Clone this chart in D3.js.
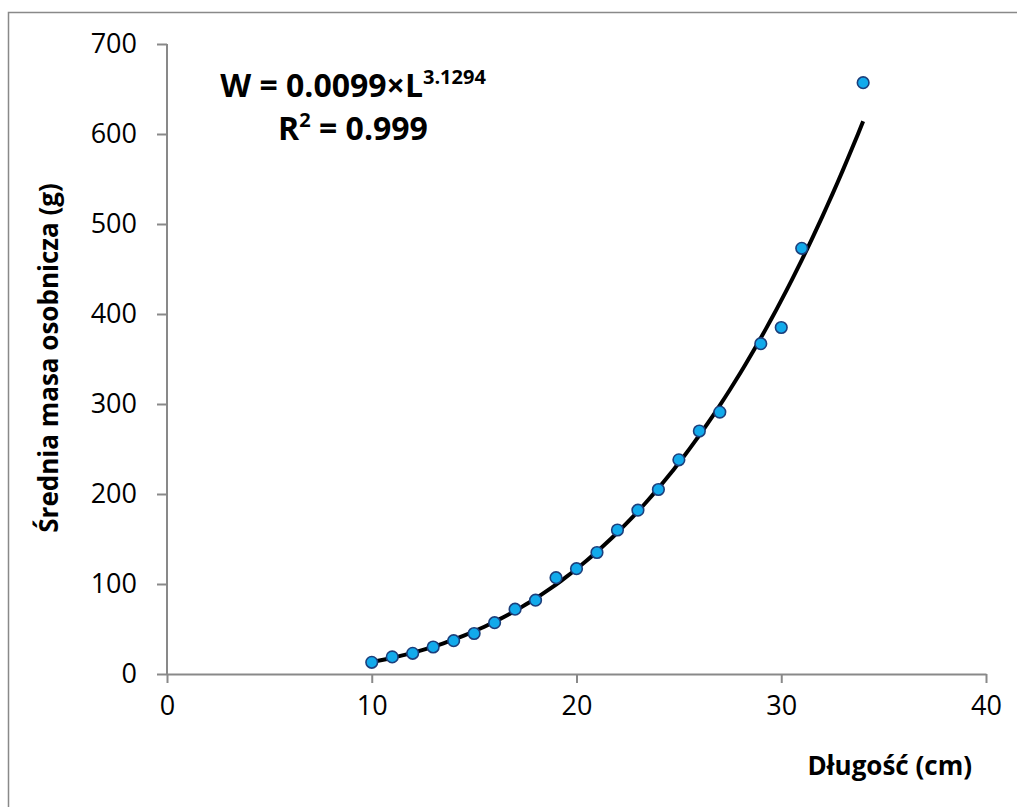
<!DOCTYPE html>
<html>
<head>
<meta charset="utf-8">
<script src="https://cdnjs.cloudflare.com/ajax/libs/d3/7.8.5/d3.min.js"></script>
<style>
  body { margin: 0; background: #fff; }
  svg { display: block; font-family: "Open Sans", "Noto Sans", sans-serif; }
</style>
</head>
<body>
<div id="chart"></div>
<script>
// Dane: długość (cm) i średnia masa (g)
const lengths = [10, 11, 12, 13, 14, 15, 16, 17, 18, 19, 20, 21, 22, 23, 24, 25, 26, 27, 29, 30, 31, 34];
const masses = [13, 19, 23, 30, 37, 45, 57, 72, 82, 107, 117, 135, 160, 182, 205, 238, 270, 291, 367, 385, 473, 657];
const xTicks = [0, 10, 20, 30, 40];
const yTicks = [0, 100, 200, 300, 400, 500, 600, 700];
// linia trendu potęgowego z wykresu
const fitA = 0.0099, fitB = 3.1294;
const fitRange = [10, 34];

const width = 1017, height = 807;
const plot = { left: 167, right: 986, top: 44, bottom: 674 };
const axisColor = "#898989";

const svg = d3.select("#chart").append("svg")
  .attr("width", width).attr("height", height);

svg.append("rect")
  .attr("x", 8.5).attr("y", 12.5)
  .attr("width", width).attr("height", height)
  .attr("fill", "white").attr("stroke", axisColor).attr("stroke-width", 1.5);

const x = d3.scaleLinear().domain([0, 40]).range([plot.left, plot.right]);
const y = d3.scaleLinear().domain([0, 700]).range([plot.bottom, plot.top]);

// Osie
const xAxis = svg.append("g")
  .attr("transform", `translate(0,${plot.bottom})`)
  .call(d3.axisBottom(x).tickValues(xTicks).tickSize(9).tickPadding(13).tickSizeOuter(0));
const yAxis = svg.append("g")
  .attr("transform", `translate(${plot.left},0)`)
  .call(d3.axisLeft(y).tickValues(yTicks).tickSize(10).tickPadding(20).tickSizeOuter(0));

[xAxis, yAxis].forEach((a) => {
  a.select(".domain").attr("stroke", axisColor).attr("stroke-width", 2);
  a.selectAll(".tick line").attr("stroke", axisColor).attr("stroke-width", 2);
  a.selectAll(".tick text")
    .attr("fill", "#000")
    .style("font-size", "27px")
    .style("font-family", "'Open Sans', sans-serif");
});
yAxis.select(".domain").attr("d", `M0,${plot.bottom + 1}V${plot.top}`);

// Linia trendu
const curve = d3.range(fitRange[0], fitRange[1] + 0.001, 0.25).map((l) => [l, fitA * Math.pow(l, fitB)]);
svg.append("path")
  .datum(curve)
  .attr("fill", "none")
  .attr("stroke", "#000")
  .attr("stroke-width", 4)
  .attr("d", d3.line().x((d) => x(d[0])).y((d) => y(d[1])));

// Punkty
svg.append("g").selectAll("circle")
  .data(lengths.map((l, i) => [l, masses[i]]))
  .join("circle")
  .attr("cx", (d) => x(d[0]))
  .attr("cy", (d) => y(d[1]))
  .attr("r", 5.8)
  .attr("fill", "#12aaeb")
  .attr("stroke", "#1c3f7c")
  .attr("stroke-width", 1.6);

// Równanie
const eq = svg.append("text")
  .attr("x", 353).attr("y", 97)
  .attr("text-anchor", "middle")
  .style("font-size", "32px").style("font-weight", "bold");
eq.append("tspan").text("W = 0.0099×L");
eq.append("tspan").attr("dy", -13).style("font-size", "20px").text("3.1294");

const r2 = svg.append("text")
  .attr("x", 353).attr("y", 140)
  .attr("text-anchor", "middle")
  .style("font-size", "32px").style("font-weight", "bold");
r2.append("tspan").text("R");
r2.append("tspan").attr("dy", -13).style("font-size", "20px").text("2");
r2.append("tspan").attr("dy", 13).text(" = 0.999");

// Tytuły osi
svg.append("text")
  .attr("x", 972).attr("y", 775)
  .attr("text-anchor", "end")
  .style("font-size", "26px").style("font-weight", "bold")
  .text("Długość (cm)");

svg.append("text")
  .attr("transform", "translate(58,358) rotate(-90)")
  .attr("text-anchor", "middle")
  .style("font-size", "26px").style("font-weight", "bold")
  .text("Średnia masa osobnicza (g)");
</script>
</body>
</html>
